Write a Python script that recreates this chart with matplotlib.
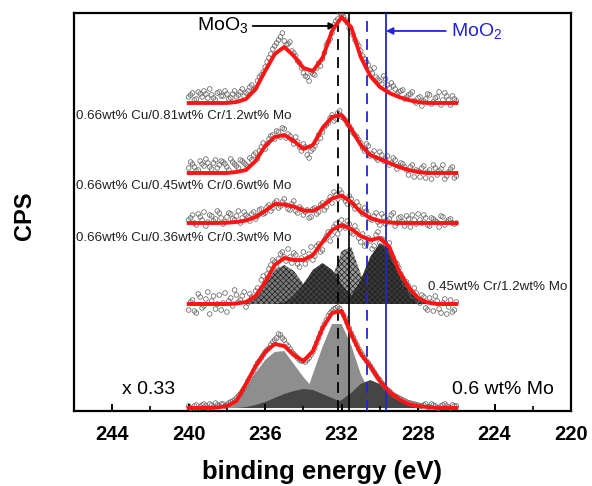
import numpy as np
import matplotlib.pyplot as plt

# FONTES

plt.rcParams["font.family"] = "Liberation Sans"
plt.rcParams["mathtext.fontset"] = "custom"
plt.rcParams["mathtext.rm"] = "Liberation Sans"
plt.rcParams["hatch.linewidth"] = 0.5
plt.rcParams["hatch.color"] = "#1e1e1e"

# DADOS (intensidade acima da linha de base de cada espectro)

e_fit = np.linspace(240, 226, 29)      # passo de 0.5 eV
e_pts = np.linspace(240, 226, 71)      # pontos em 240.0, 239.8, ...
e_pts_b = np.linspace(239.9, 226.1, 70)  # pontos em 239.9, 239.7, ...

offsets = [308, 238, 188, 107, 3]

fit_1 = [0, 0, 0, 0, 0, 1, 4, 14, 32, 49, 56, 47, 35, 32, 45, 72, 86, 76, 46, 27,
         16, 10, 6, 3, 1, 0, 0, 0, 0]
fit_2 = [0, 0, 0, 0, 0, 1, 3, 12, 27, 36, 38, 32, 24, 28, 45, 56, 58, 44, 28, 18,
         14, 10, 6, 3, 1, 0, 0, 0, 0]
fit_3 = [0, 0, 0, 0, 0.3, 1, 2.5, 6, 12, 19, 18.5, 16.5, 12.5, 12, 17, 24.5, 27.5, 21, 11, 5,
         2, 0.5, 0, 0, 0, 0, 0, 0, 0]
fit_4 = [0, 0, 0, 0, 0, 0.5, 2, 8, 22, 39, 46, 44, 44, 49, 62, 74, 79, 75, 68, 64,
         66, 57, 33, 17, 6, 1.5, 0, 0, 0]
fit_5 = [0, 0, 0, 0.5, 2, 7, 24, 42, 56, 64, 62, 53, 47, 57, 80, 95, 97, 74, 54, 42,
         27, 16, 9, 4, 2, 1, 0, 0, 0]

# componentes do espectro 0.45wt% Cr/1.2wt% Mo
comp4_a = [0, 0, 0, 0, 0, 0, 1, 7, 20, 34, 39, 33, 20, 8, 2, 0, 0, 0, 0, 0,
           0, 0, 0, 0, 0, 0, 0, 0, 0]
comp4_b = [0, 0, 0, 0, 0, 0, 0, 0, 0, 0, 2, 8, 20, 34, 41, 34, 20, 8, 2, 0,
           0, 0, 0, 0, 0, 0, 0, 0, 0]
comp4_c = [0, 0, 0, 0, 0, 0, 0, 0, 0, 0, 0, 0, 0, 0, 5, 25, 53, 57, 30, 8,
           1, 0, 0, 0, 0, 0, 0, 0, 0]
comp4_d = [0, 0, 0, 0, 0, 0, 0, 0, 0, 0, 0, 0, 0, 0, 0, 0, 2, 8, 24, 47,
           61, 55, 33, 14, 4, 1, 0, 0, 0]

# componentes do espectro 0.6 wt% Mo
comp5_l1 = [0, 0, 0, 0.5, 1.5, 8, 19, 35, 48, 56, 57, 44, 31, 20, 11, 5, 2, 0.5, 0, 0,
            0, 0, 0, 0, 0, 0, 0, 0, 0]
comp5_l2 = [0, 0, 0, 0, 0, 0, 0, 0, 0, 0, 0, 1, 6, 34, 61, 84, 84, 63, 34, 15,
            5, 1.5, 0, 0, 0, 0, 0, 0, 0]
comp5_d1 = [0, 0, 0, 0, 0, 0, 1, 3, 6, 10, 14, 17, 19, 18, 14, 10, 6, 3, 1, 0,
            0, 0, 0, 0, 0, 0, 0, 0, 0]
comp5_d2 = [0, 0, 0, 0, 0, 0, 0, 0, 0, 0, 0, 0, 0, 0, 1, 3, 8, 15, 24, 28,
            24, 15, 8, 4, 2, 0.5, 0, 0, 0]

# pontos medidos (grade 240.0, 239.8, ...)
pts_1 = [6, 10, 4, 9, 12, 5, 8, 3, 11, 7,
         9, 5, 12, 8, 14, 10, 16, 13, 22, 28,
         36, 45, 54, 60, 66, 62, 59, 52, 47, 40,
         30, 26, 31, 28, 40, 44, 58, 64, 78, 84,
         88, 83, 75, 68, 60, 52, 44, 38, 30, 26,
         22, 27, 18, 20, 14, 11, 13, 6, 9, 2,
         5, -3, 4, 8, 1, 6, -2, 10, 3, 7,
         2]
pts_2 = [5, 9, 2, 12, 7, 10, 4, 13, 8, 11,
         6, 14, 9, 5, 12, 8, 15, 18, 14, 26,
         24, 34, 38, 42, 36, 44, 39, 33, 36, 26,
         29, 18, 22, 27, 38, 41, 48, 55, 52, 60,
         56, 53, 47, 40, 36, 30, 22, 27, 19, 15,
         21, 12, 17, 10, 13, 7, 9, 3, 6, -4,
         2, 5, -5, 3, 8, -2, 4, -6, 1, 6,
         -3]
pts_3 = [3, 8, -2, 6, 11, 1, 7, 4, 10, -1,
         6, 9, 3, 12, 5, 8, 2, 11, 7, 14,
         10, 18, 15, 22, 17, 24, 14, 19, 12, 16,
         8, 13, 6, 15, 11, 20, 16, 26, 31, 24,
         30, 22, 27, 18, 21, 12, 15, 8, 3, 10,
         -2, 6, 2, 8, -3, 5, 1, 7, -4, 3,
         9, 0, 5, -3, 4, 1, 7, -2, 3, 0,
         0]
pts_4 = [-6, 4, -9, 7, -2, 12, 3, -5, 9, 1,
         -8, 6, 14, 2, 8, -3, 10, 5, 16, 24,
         20, 35, 44, 38, 50, 47, 55, 41, 49, 37,
         52, 45, 57, 48, 60, 54, 68, 63, 77, 70,
         84, 76, 80, 70, 73, 62, 58, 66, 55, 69,
         61, 64, 55, 50, 42, 36, 26, 22, 13, 16,
         4, 9, -4, 6, -7, 3, -9, 5, -3, -8,
         2]
pts_5 = [2, -1, 3, 1, 4, 0, 3, 5, 2, 4,
         3, 6, 8, 12, 17, 23, 30, 37, 45, 50,
         56, 60, 66, 70, 73, 68, 62, 56, 52, 48,
         47, 48, 53, 60, 70, 80, 88, 95, 99, 101,
         96, 90, 80, 71, 63, 56, 50, 45, 39, 33,
         28, 23, 18, 15, 12, 10, 8, 6, 5, 4,
         3, 2, 4, 1, 3, 0, 2, 4, 1, 3,
         2]

# pontos medidos (grade 239.9, 239.7, ...)
pts_1b = [8, 3, 11, 6, 9, 14, 5, 10, 7, 12,
          4, 9, 6, 11, 7, 12, 18, 15, 26, 31,
          41, 49, 57, 63, 70, 58, 61, 50, 42, 35,
          27, 22, 29, 35, 37, 50, 61, 70, 82, 90,
          86, 80, 72, 63, 57, 47, 41, 33, 35, 24,
          19, 24, 15, 17, 9, 12, 4, 8, 11, 0,
          6, 2, 9, -1, 5, 11, 3, 7, -2, 4]
pts_2b = [11, 6, 3, 9, 14, 6, 10, 5, 12, 9,
          3, 11, 7, 13, 10, 6, 13, 20, 22, 30,
          29, 37, 34, 41, 45, 35, 37, 29, 31, 22,
          26, 15, 24, 31, 35, 46, 50, 58, 54, 62,
          55, 49, 44, 38, 33, 25, 29, 17, 22, 13,
          18, 14, 8, 15, 4, 10, 6, -2, 8, 3,
          -4, 7, 1, -6, 5, 2, 8, -3, 4, -5]
pts_3b = [5, 0, 9, 3, -3, 8, 2, 12, 5, 1,
          10, 4, 7, 0, 11, 6, 9, 4, 13, 9,
          16, 12, 20, 15, 21, 18, 13, 22, 10, 14,
          11, 5, 14, 9, 18, 13, 22, 20, 28, 33,
          25, 19, 24, 14, 17, 9, 12, 4, 7, 1,
          9, -1, 4, 10, 0, 6, -3, 4, 8, -1,
          3, 8, -2, 5, 2, -4, 6, 1, 4, -1]
pts_4b = [2, -7, 10, -4, 5, -10, 8, 0, -6, 11,
          3, -2, 9, 4, 12, 1, 7, 13, 9, 28,
          30, 39, 42, 45, 52, 43, 47, 51, 40, 46,
          40, 50, 44, 58, 52, 64, 72, 69, 80, 75,
          78, 83, 72, 78, 66, 70, 60, 63, 58, 72,
          65, 60, 61, 46, 40, 30, 20, 18, 8, 11,
          1, 7, -6, 2, 8, -5, 1, -10, 4, -6]
pts_5b = [0, 2, -1, 3, 2, 4, 1, 3, 4, 2,
          5, 7, 10, 14, 20, 27, 33, 41, 47, 53,
          58, 63, 68, 74, 70, 64, 59, 54, 50, 47,
          46, 50, 56, 65, 75, 84, 92, 97, 100, 99,
          93, 85, 75, 67, 59, 53, 47, 42, 36, 30,
          25, 20, 17, 13, 11, 9, 7, 5, 4, 3,
          2, 3, 1, 4, 2, 0, 3, 2, 0, 2]

fits = [fit_1, fit_2, fit_3, fit_4, fit_5]
points = [pts_1, pts_2, pts_3, pts_4, pts_5]
points_b = [pts_1b, pts_2b, pts_3b, pts_4b, pts_5b]

sample_labels = [
    "0.66wt% Cu/0.81wt% Cr/1.2wt% Mo",
    "0.66wt% Cu/0.45wt% Cr/0.6wt% Mo",
    "0.66wt% Cu/0.36wt% Cr/0.3wt% Mo",
]

# posições das linhas de referência (eV)
moo3_dash = 232.2
moo3_line = 231.6
moo2_dash = 230.65
moo2_line = 229.7

blue = "#2424d6"

# FIGURA

fig = plt.figure(figsize=(5.92, 4.86), dpi=100)
ax = fig.add_axes([0.125, 0.1543, 0.8395, 0.819])

# componentes (preenchimentos)
off4 = offsets[3]
ax.fill_between(e_fit, off4, off4 + np.array(comp4_a), facecolor="#7a7a7a",
                hatch="xxxxxx", linewidth=0, zorder=1)
ax.fill_between(e_fit, off4, off4 + np.array(comp4_c), facecolor="#9a9a9a",
                hatch="xxxxxx", linewidth=0, zorder=1)
ax.fill_between(e_fit, off4, off4 + np.array(comp4_b), facecolor="#404040",
                hatch="xxxxxx", linewidth=0, zorder=1.2)
ax.fill_between(e_fit, off4, off4 + np.array(comp4_d), facecolor="#383838",
                hatch="xxxxxx", linewidth=0, zorder=1.2)

off5 = offsets[4]
ax.fill_between(e_fit, off5, off5 + np.array(comp5_l1), facecolor="#8e8e8e",
                linewidth=0, zorder=1)
ax.fill_between(e_fit, off5, off5 + np.array(comp5_l2), facecolor="#8e8e8e",
                linewidth=0, zorder=1)
ax.fill_between(e_fit, off5, off5 + np.array(comp5_d1), facecolor="#454545",
                linewidth=0, zorder=1.2)
ax.fill_between(e_fit, off5, off5 + np.array(comp5_d2), facecolor="#454545",
                linewidth=0, zorder=1.2)

# pontos e ajustes
for off, pts, pts_b, fit in zip(offsets, points, points_b, fits):
    ax.scatter(e_pts, off + np.array(pts), s=11, facecolors="none",
               edgecolors="#666666", linewidths=0.55, zorder=3)
    ax.scatter(e_pts_b, off + np.array(pts_b), s=11, facecolors="none",
               edgecolors="#666666", linewidths=0.55, zorder=3)
    ax.plot(e_fit, off + np.array(fit), color="#ff1414", lw=2.8,
            solid_joinstyle="round", zorder=4)

# linhas verticais
ax.plot([moo3_dash, moo3_dash], [0, 386], color="black", lw=1.3,
        dashes=(6, 4), zorder=3.5)
ax.plot([moo3_line, moo3_line], [0, 398], color="black", lw=1.2, zorder=3.5)
ax.plot([moo2_dash, moo2_dash], [0, 393], color=blue, lw=1.3,
        dashes=(6, 4), zorder=3.5)
ax.plot([moo2_line, moo2_line], [0, 398], color=blue, lw=1.3, zorder=3.5)

# setas e rótulos MoO3 / MoO2
ax.annotate("", xy=(232.3, 385), xytext=(236.65, 385),
            arrowprops=dict(arrowstyle="-|>", color="black", lw=1.3,
                            mutation_scale=10, shrinkA=0, shrinkB=0))
ax.text(236.86, 380, r"MoO$_\mathregular{3}$", ha="right", va="baseline",
        fontsize=14)

ax.annotate("", xy=(229.68, 380), xytext=(226.55, 380),
            arrowprops=dict(arrowstyle="-|>", color=blue, lw=1.3,
                            mutation_scale=10, shrinkA=0, shrinkB=0))
ax.text(226.26, 374, r"MoO$_\mathregular{2}$", ha="left", va="baseline",
        fontsize=14, color=blue)

# rótulos das amostras
for y, txt in zip([295, 225, 173], sample_labels):
    ax.text(245.9, y, txt, ha="left", va="center", fontsize=9.6, color="#222222")
ax.text(227.5, 124, "0.45wt% Cr/1.2wt% Mo", ha="left", va="center",
        fontsize=9.6, color="#222222")
ax.text(243.5, 22, "x 0.33", ha="left", va="center", fontsize=14)
ax.text(226.2, 22, "0.6 wt% Mo", ha="left", va="center", fontsize=14)

# EIXOS

ax.set_xlim(246, 220)
ax.set_ylim(0, 398)
ax.set_xticks([244, 240, 236, 232, 228, 224, 220])
ax.set_xticks([242, 238, 234, 230, 226, 222], minor=True)
ax.set_yticks([])
ax.tick_params(axis="x", which="major", direction="in", length=5, width=1.4,
               pad=10, labelsize=14.5)
ax.tick_params(axis="x", which="minor", direction="in", length=3.5, width=1.2)
for lbl in ax.get_xticklabels():
    lbl.set_fontweight("bold")
for sp in ax.spines.values():
    sp.set_linewidth(1.6)

fig.text(322 / 592, 1 - 472 / 486, "binding energy (eV)", ha="center",
         va="center", fontsize=18.5, fontweight="bold")
fig.text(25 / 592, 1 - 216 / 486, "CPS", rotation=90, ha="center",
         va="center", fontsize=17, fontweight="bold")

fig.savefig("out.png", dpi=100)
